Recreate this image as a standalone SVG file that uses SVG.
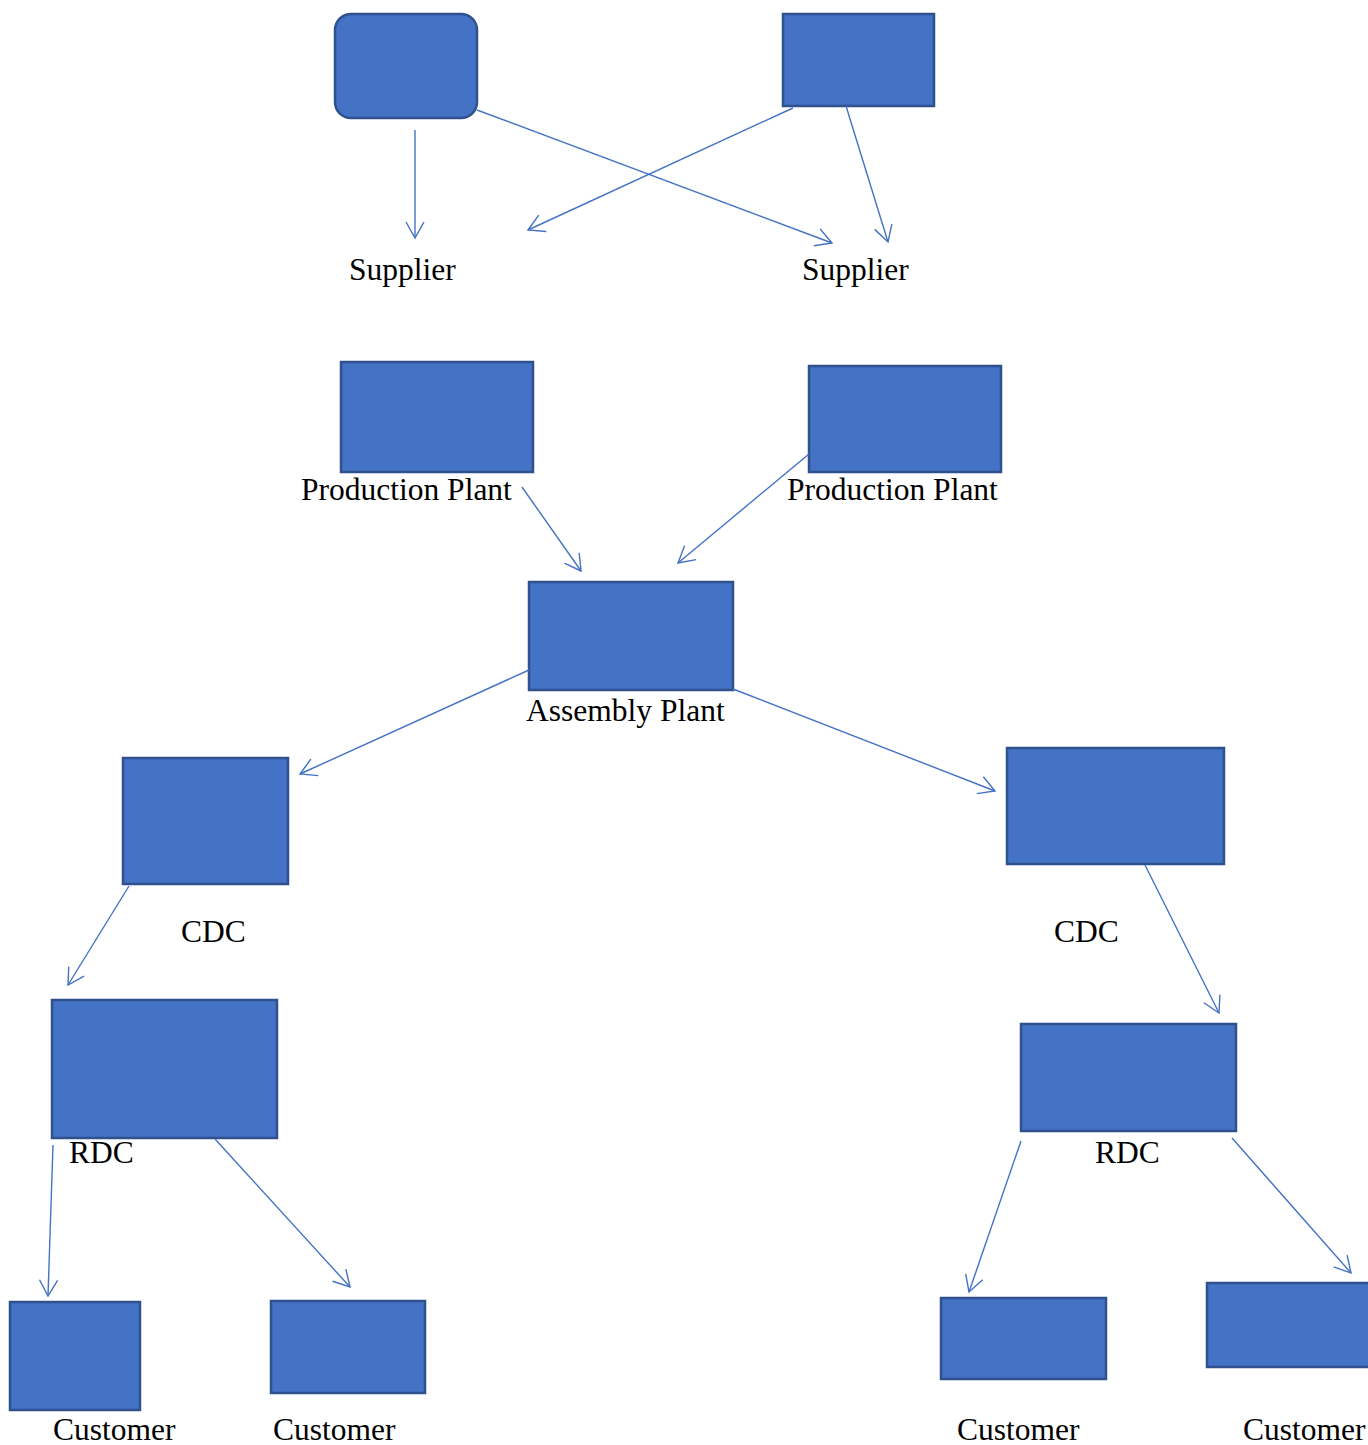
<svg xmlns="http://www.w3.org/2000/svg" width="1368" height="1445" viewBox="0 0 1368 1445">
<style>
.box{fill:#4472C4;stroke:#2F528F;stroke-width:2.5}
.lbl{font-family:"Liberation Serif","Times New Roman",serif;font-size:31.5px;fill:#000}
.conn line{stroke:#4472C4;stroke-width:1.4;fill:none;marker-end:url(#arr)}
</style>
<defs>
<marker id="arr" markerUnits="userSpaceOnUse" markerWidth="22" markerHeight="22" viewBox="0 0 22 22" refX="19" refY="11" orient="auto">
<path d="M3,2 L19,11 L3,20" fill="none" stroke="#4472C4" stroke-width="1.4"/>
</marker>
</defs>
<rect width="1368" height="1445" fill="#fff"/>
<g id="supplier1"><rect class="box" x="335" y="14" width="142" height="104" rx="16"/><text class="lbl" x="349" y="280">Supplier</text></g>
<g id="supplier2"><rect class="box" x="783" y="14" width="151" height="92"/><text class="lbl" x="802" y="280">Supplier</text></g>
<g id="pp1"><rect class="box" x="341" y="362" width="192" height="110"/><text class="lbl" x="301" y="500">Production Plant</text></g>
<g id="pp2"><rect class="box" x="809" y="366" width="192" height="106"/><text class="lbl" x="787" y="500">Production Plant</text></g>
<g id="assembly"><rect class="box" x="529" y="582" width="204" height="108"/><text class="lbl" x="526" y="721">Assembly Plant</text></g>
<g id="cdc1"><rect class="box" x="123" y="758" width="165" height="126"/><text class="lbl" x="181" y="942">CDC</text></g>
<g id="cdc2"><rect class="box" x="1007" y="748" width="217" height="116"/><text class="lbl" x="1054" y="942">CDC</text></g>
<g id="rdc1"><rect class="box" x="52" y="1000" width="225" height="138"/><text class="lbl" x="69" y="1163">RDC</text></g>
<g id="rdc2"><rect class="box" x="1021" y="1024" width="215" height="107"/><text class="lbl" x="1095" y="1163">RDC</text></g>
<g id="cust1"><rect class="box" x="10" y="1302" width="130" height="108"/><text class="lbl" x="53" y="1440">Customer</text></g>
<g id="cust2"><rect class="box" x="271" y="1301" width="154" height="92"/><text class="lbl" x="273" y="1440">Customer</text></g>
<g id="cust3"><rect class="box" x="941" y="1298" width="165" height="81"/><text class="lbl" x="957" y="1440">Customer</text></g>
<g id="cust4"><rect class="box" x="1207" y="1283" width="165" height="84"/><text class="lbl" x="1243" y="1440">Customer</text></g>
<g id="connectors" class="conn">
<line x1="415" y1="130" x2="415" y2="238"/>
<line x1="477" y1="110" x2="832" y2="243"/>
<line x1="793" y1="108" x2="528" y2="230"/>
<line x1="846" y1="106" x2="888" y2="242"/>
<line x1="522" y1="487" x2="581" y2="571"/>
<line x1="809" y1="454" x2="678" y2="563"/>
<line x1="529" y1="670" x2="300" y2="774"/>
<line x1="733" y1="689" x2="995" y2="791"/>
<line x1="129" y1="886" x2="68" y2="985"/>
<line x1="1145" y1="865" x2="1219" y2="1013"/>
<line x1="53" y1="1145" x2="48" y2="1296"/>
<line x1="215" y1="1139" x2="350" y2="1287"/>
<line x1="1021" y1="1141" x2="969" y2="1292"/>
<line x1="1232" y1="1138" x2="1351" y2="1273"/>
</g>
</svg>
